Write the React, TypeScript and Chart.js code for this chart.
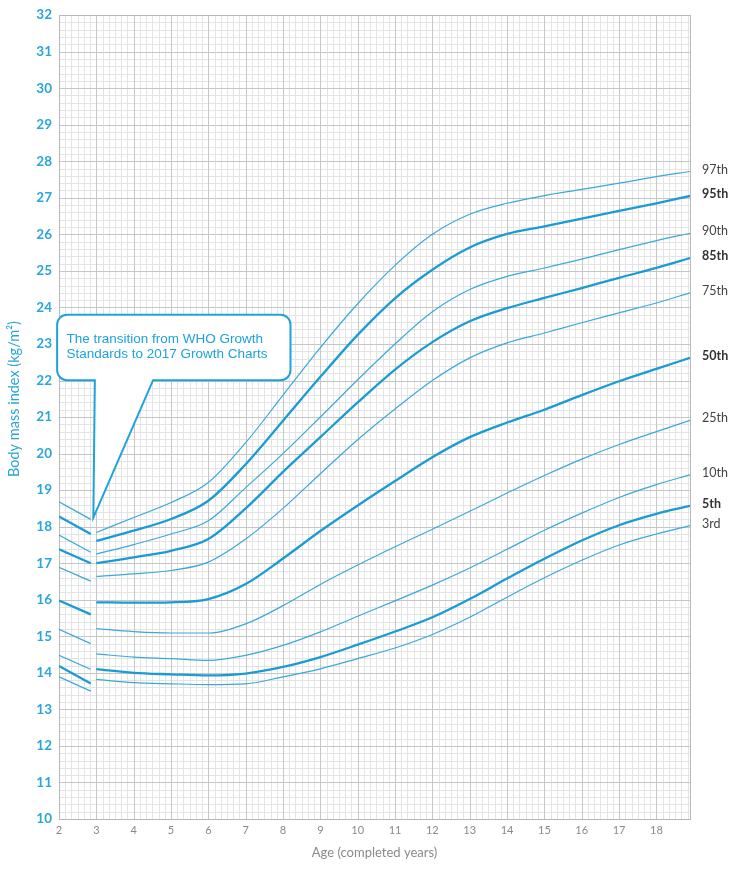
import React, { useEffect, useRef } from 'react';
import { Chart, registerables } from 'chart.js';

Chart.register(...registerables);

// ---- data ----
const ages = [3, 4, 5, 6, 7, 8, 9, 10, 11, 12, 13, 14, 15, 16, 17, 18, 18.9];
const whoAges = [2, 2.85];

const percentileLabels = ['97th', '95th', '90th', '85th', '75th', '50th', '25th', '10th', '5th', '3rd'];
const boldPercentiles = ['95th', '85th', '50th', '5th'];

const p97 = [17.84, 18.25, 18.66, 19.21, 20.3, 21.6, 22.9, 24.1, 25.15, 26.0, 26.55, 26.85, 27.06, 27.23, 27.4, 27.58, 27.72];
const p95 = [17.61, 17.89, 18.21, 18.71, 19.71, 20.9, 22.1, 23.25, 24.25, 25.03, 25.64, 26.01, 26.22, 26.43, 26.64, 26.85, 27.05];
const p90 = [17.25, 17.51, 17.8, 18.16, 19.07, 20.0, 21.0, 22.02, 23.0, 23.88, 24.49, 24.85, 25.08, 25.32, 25.58, 25.83, 26.03];
const p85 = [17.0, 17.16, 17.34, 17.66, 18.5, 19.5, 20.45, 21.4, 22.3, 23.05, 23.62, 23.98, 24.26, 24.53, 24.81, 25.08, 25.35];
const p75 = [16.64, 16.71, 16.8, 17.03, 17.66, 18.5, 19.45, 20.38, 21.22, 22.0, 22.62, 23.03, 23.3, 23.58, 23.85, 24.12, 24.4];
const p50 = [15.93, 15.92, 15.93, 16.02, 16.43, 17.13, 17.88, 18.58, 19.25, 19.9, 20.45, 20.85, 21.2, 21.6, 21.98, 22.32, 22.62];
const p25 = [15.21, 15.13, 15.09, 15.09, 15.34, 15.84, 16.42, 16.95, 17.45, 17.93, 18.42, 18.92, 19.4, 19.85, 20.25, 20.6, 20.91];
const p10 = [14.52, 14.43, 14.39, 14.34, 14.48, 14.75, 15.12, 15.55, 15.97, 16.4, 16.87, 17.38, 17.9, 18.37, 18.8, 19.15, 19.42];
const p5 = [14.1, 14.0, 13.96, 13.93, 13.98, 14.16, 14.43, 14.77, 15.13, 15.52, 16.02, 16.58, 17.12, 17.62, 18.04, 18.35, 18.57];
const p3 = [13.82, 13.73, 13.7, 13.68, 13.7, 13.89, 14.11, 14.39, 14.68, 15.05, 15.52, 16.07, 16.6, 17.08, 17.5, 17.8, 18.03];

// WHO standard segments (age 2 to just before 3)
const who97 = [18.68, 18.2];
const who95 = [18.28, 17.8];
const who90 = [17.77, 17.3];
const who85 = [17.38, 17.0];
const who75 = [16.89, 16.51];
const who50 = [15.98, 15.6];
const who25 = [15.19, 14.8];
const who10 = [14.48, 14.1];
const who5 = [14.19, 13.71];
const who3 = [13.89, 13.5];

const mainSeries = [p97, p95, p90, p85, p75, p50, p25, p10, p5, p3];
const whoSeries = [who97, who95, who90, who85, who75, who50, who25, who10, who5, who3];

const yTickMin = 10;
const yTickMax = 32;
const xTickMin = 2;
const xTickMax = 18.9;

const calloutLines = ['The transition from WHO Growth', 'Standards to 2017 Growth Charts'];

const BLUE = '#1a9bd3';
const THIN_BLUE = '#3aa9da';

export default function App() {
  const ref = useRef<HTMLCanvasElement | null>(null);

  useEffect(() => {
    const canvas = ref.current;
    if (!canvas) return;

    const datasets: any[] = [];
    percentileLabels.forEach((lab, i) => {
      const bold = boldPercentiles.includes(lab);
      datasets.push({
        label: lab,
        data: ages.map((a, j) => ({ x: a, y: mainSeries[i][j] })),
        borderColor: bold ? BLUE : THIN_BLUE,
        borderWidth: bold ? 2.3 : 1.2,
        pointRadius: 0,
        cubicInterpolationMode: 'monotone',
        fill: false,
      });
      datasets.push({
        label: 'WHO ' + lab,
        data: whoAges.map((a, j) => ({ x: a, y: whoSeries[i][j] })),
        borderColor: bold ? BLUE : THIN_BLUE,
        borderWidth: bold ? 2.3 : 1.2,
        pointRadius: 0,
        fill: false,
      });
    });

    const gridPlugin = {
      id: 'paperGrid',
      beforeDatasetsDraw(chart: any) {
        const { ctx, chartArea: ca, scales } = chart;
        const xs = scales.x;
        const ys = scales.y;
        ctx.save();
        ctx.lineWidth = 1;
        const drawV = (v: number, color: string) => {
          const px = Math.round(xs.getPixelForValue(v)) + 0.5;
          ctx.strokeStyle = color;
          ctx.beginPath();
          ctx.moveTo(px, ca.top);
          ctx.lineTo(px, ca.bottom);
          ctx.stroke();
        };
        const drawH = (v: number, color: string) => {
          const py = Math.round(ys.getPixelForValue(v)) + 0.5;
          ctx.strokeStyle = color;
          ctx.beginPath();
          ctx.moveTo(ca.left, py);
          ctx.lineTo(ca.right, py);
          ctx.stroke();
        };
        const minor = '#e4e4e4';
        const major = '#c6c6c6';
        for (let k = 0; xTickMin + k / 6 <= xTickMax + 1e-9; k++) if (k % 6) drawV(xTickMin + k / 6, minor);
        for (let k = 0; yTickMin + k / 5 <= yTickMax + 1e-9; k++) if (k % 5) drawH(yTickMin + k / 5, minor);
        for (let v = xTickMin; v <= xTickMax; v++) drawV(v, major);
        for (let v = yTickMin; v <= yTickMax; v++) drawH(v, major);
        ctx.strokeStyle = '#b8b8b8';
        ctx.strokeRect(Math.round(ca.left) + 0.5, Math.round(ca.top) + 0.5, Math.round(ca.right - ca.left), Math.round(ca.bottom - ca.top));
        ctx.restore();
      },
      afterDatasetsDraw(chart: any) {
        const { ctx, chartArea: ca, scales } = chart;
        const xs = scales.x;
        const ys = scales.y;
        ctx.save();
        // percentile labels
        percentileLabels.forEach((lab, i) => {
          const s = mainSeries[i];
          const y = ys.getPixelForValue(s[s.length - 1]) - 2;
          const bold = boldPercentiles.includes(lab);
          ctx.font = (bold ? 'bold ' : '') + '12.5px Lato, "Noto Sans", sans-serif';
          ctx.fillStyle = bold ? '#333333' : '#444444';
          ctx.textAlign = 'left';
          ctx.textBaseline = 'middle';
          ctx.fillText(lab, ca.right + 12, y);
        });

        // callout
        const L = xs.getPixelForValue(1.95);
        const R = xs.getPixelForValue(8.2);
        const T = ys.getPixelForValue(23.8);
        const B = ys.getPixelForValue(22.01);
        const bx1 = xs.getPixelForValue(2.96);
        const bx2 = xs.getPixelForValue(4.52);
        const tx = xs.getPixelForValue(2.92);
        const ty = ys.getPixelForValue(18.25);
        const r = 10;
        ctx.beginPath();
        ctx.moveTo(L + r, T);
        ctx.lineTo(R - r, T);
        ctx.arcTo(R, T, R, T + r, r);
        ctx.lineTo(R, B - r);
        ctx.arcTo(R, B, R - r, B, r);
        ctx.lineTo(bx2, B);
        ctx.lineTo(tx, ty);
        ctx.lineTo(bx1, B);
        ctx.lineTo(L + r, B);
        ctx.arcTo(L, B, L, B - r, r);
        ctx.lineTo(L, T + r);
        ctx.arcTo(L, T, L + r, T, r);
        ctx.closePath();
        ctx.fillStyle = '#ffffff';
        ctx.fill();
        ctx.strokeStyle = '#1fa2da';
        ctx.lineWidth = 2;
        ctx.lineJoin = 'miter';
        ctx.stroke();
        ctx.fillStyle = '#1fa2da';
        ctx.font = '13.5px "Liberation Sans", Arial, sans-serif';
        ctx.textAlign = 'left';
        ctx.textBaseline = 'middle';
        const textX = xs.getPixelForValue(2.2);
        ctx.fillText(calloutLines[0], textX, ys.getPixelForValue(23.13));
        ctx.fillText(calloutLines[1], textX, ys.getPixelForValue(22.71));

        // y-axis title
        ctx.save();
        ctx.translate(14, (ca.top + ca.bottom) / 2 - 18);
        ctx.rotate(-Math.PI / 2);
        ctx.font = '14.5px Lato, "Noto Sans", sans-serif';
        ctx.fillStyle = '#2aa6d9';
        ctx.textAlign = 'center';
        ctx.textBaseline = 'middle';
        ctx.fillText('Body mass index (kg/m²)', 0, 0);
        ctx.restore();
        ctx.restore();
      },
    };

    const chart = new Chart(canvas, {
      type: 'line',
      data: { datasets },
      options: {
        animation: false,
        responsive: true,
        maintainAspectRatio: false,
        layout: { padding: { top: 13, right: 46, left: 0, bottom: 0 } },
        plugins: { legend: { display: false }, tooltip: { enabled: false } },
        scales: {
          x: {
            type: 'linear',
            min: xTickMin,
            max: xTickMax,
            grid: { display: false, drawTicks: false },
            border: { display: false },
            ticks: {
              stepSize: 1,
              includeBounds: false,
              autoSkip: false,
              maxRotation: 0,
              padding: 5,
              color: '#8a8a8a',
              font: { family: 'Lato, "Noto Sans", sans-serif', size: 11 },
              callback: (v: any) => (Math.abs(v - Math.round(v)) < 1e-6 ? String(Math.round(v)) : ''),
            },
            title: {
              display: true,
              text: 'Age (completed years)',
              color: '#8a8a8a',
              font: { family: 'Lato, "Noto Sans", sans-serif', size: 13 },
              padding: { top: 4, bottom: 9 },
            },
            afterFit: (s: any) => {
              s.height = 51;
            },
          },
          y: {
            type: 'linear',
            min: yTickMin,
            max: yTickMax,
            grid: { display: false, drawTicks: false },
            border: { display: false },
            ticks: {
              stepSize: 1,
              padding: 7,
              color: '#2aa6d9',
              font: { family: 'Lato, "Noto Sans", sans-serif', size: 13.5, weight: 'bold' },
            },
            afterFit: (s: any) => {
              s.width = 59;
            },
          },
        },
      },
      plugins: [gridPlugin],
    } as any);

    return () => chart.destroy();
  }, []);

  return (
    <div style={{ position: 'absolute', left: 0, top: 0, width: 736, height: 870, background: '#ffffff' }}>
      <canvas ref={ref} />
    </div>
  );
}
